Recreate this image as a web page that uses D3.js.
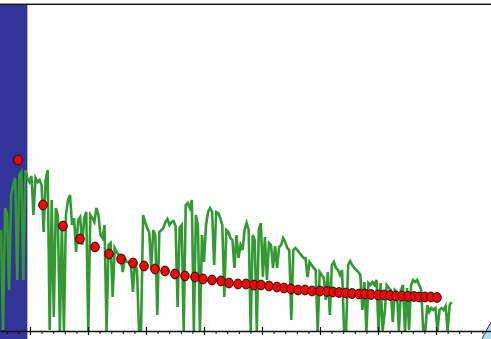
<!DOCTYPE html>
<html>
<head>
<meta charset="utf-8">
<script src="https://cdn.jsdelivr.net/npm/d3@7/dist/d3.min.js"></script>
<style>
    html, body { margin: 0; padding: 0; background: #fff; }
    svg { display: block; }
</style>
</head>
<body>
<script>
const width = 491;
const height = 339;

// spectrum sampled on a regular wavelength grid (start + step, as in a FITS header)
const waveStart = 500;
const waveStep = 35;
const flux = [
    1.01, 0.01, 1.23, 1.16, 0.41, 1.36, 1.46, 1.53, 0.51, 1.56,
    1.59, 0.51, 1.61, 1.53, 1.49, 1.55, 1.16, 1.53, 1.49, 1.51,
    1.46, 0.99, 1.51, 1.61, 0.01, 1.31, 0.14, 1.23, 1.16, 0.00,
    1.06, 0.00, 1.16, 1.31, 1.36, 1.06, 1.13, 0.79, 1.11, 1.14,
    0.86, 1.13, 1.19, 0.00, 1.16, 1.13, 1.09, 1.23, 1.16, 0.96,
    0.93, 1.06, 0.00, 0.86, 0.88, 0.34, 0.83, 0.79, 0.76, 0.73,
    0.59, 0.73, 0.69, 0.69, 0.66, 0.39, 0.69, 0.61, 0.00, 0.01,
    1.16, 1.09, 1.03, 0.99, 0.63, 1.01, 0.96, 0.16, 0.99, 1.01,
    1.03, 1.09, 1.12, 1.06, 1.09, 1.10, 1.05, 0.24, 1.03, 1.06,
    0.00, 1.26, 1.28, 1.23, 1.31, 0.00, 1.16, 1.06, 0.00, 0.96,
    0.69, 1.06, 1.19, 1.23, 1.19, 0.66, 1.19, 1.18, 1.13, 1.06,
    0.34, 1.01, 0.99, 0.93, 0.91, 0.63, 0.96, 0.73, 0.86, 0.81,
    1.01, 1.08, 1.01, 0.00, 0.96, 0.91, 0.00, 1.01, 1.08, 0.54,
    0.94, 0.51, 0.88, 0.86, 0.63, 0.85, 0.63, 0.84, 0.86, 0.93,
    0.89, 0.83, 0.81, 0.11, 0.81, 0.83, 0.81, 0.78, 0.76, 0.73,
    0.73, 0.54, 0.69, 0.66, 0.63, 0.61, 0.00, 0.59, 0.56, 0.53,
    0.31, 0.59, 0.16, 0.66, 0.69, 0.63, 0.61, 0.56, 0.61, 0.00,
    0.00, 0.66, 0.70, 0.66, 0.63, 0.61, 0.59, 0.56, 0.21, 0.49,
    0.00, 0.48, 0.46, 0.49, 0.46, 0.51, 0.00, 0.48, 0.00, 0.18,
    0.46, 0.43, 0.41, 0.09, 0.41, 0.39, 0.00, 0.41, 0.46, 0.00,
    0.43, 0.01, 0.46, 0.51, 0.49, 0.51, 0.46, 0.41, 0.00, 0.00,
    0.26, 0.19, 0.23, 0.21, 0.23, 0.00, 0.21, 0.23, 0.21, 0.25,
    0.00, 0.26, 0.29
];

// photometric points
const photWave = [
    793, 1224, 1569, 1862, 2121, 2362, 2569, 2776, 2966, 3155,
    3328, 3500, 3672, 3845, 3983, 4138, 4293, 4431, 4586, 4724,
    4862, 4983, 5121, 5258, 5379, 5500, 5621, 5741, 5862, 6000,
    6120, 6224, 6327, 6448, 6551, 6672, 6776, 6879, 7000, 7103,
    7207, 7310, 7413, 7517, 7620, 7707, 7810, 7913, 8017
];
const photFlux = [
    1.71, 1.26, 1.05, 0.92, 0.84, 0.77, 0.72, 0.68, 0.65, 0.62,
    0.60, 0.57, 0.55, 0.54, 0.52, 0.51, 0.50, 0.48, 0.47, 0.47,
    0.46, 0.46, 0.45, 0.44, 0.43, 0.42, 0.41, 0.41, 0.40, 0.40,
    0.395, 0.39, 0.385, 0.38, 0.375, 0.37, 0.37, 0.365, 0.36, 0.36,
    0.355, 0.35, 0.35, 0.345, 0.345, 0.34, 0.34, 0.34, 0.335
];

// shaded wavelength band on the left, and the corner shape at bottom right
const bandRange = [300, 955];
const cornerShape = [[8790, -0.08], [8948, 0.09], [8948, -0.08]];

const majorTicks = [1000, 2000, 3000, 4000, 5000, 6000, 7000, 8000, 9000];


function drawChart() {
    let svg = d3.select("body").append("svg")
        .attr("width", width)
        .attr("height", height);

    let x = d3.scaleLinear().domain([483, 8948]).range([0, width]);
    let y = d3.scaleLinear().domain([0, 3.27]).range([331, 4]);

    svg.append("defs").append("clipPath")
        .attr("id", "plot-clip")
        .append("rect")
        .attr("x", 0)
        .attr("y", 0)
        .attr("width", width)
        .attr("height", y(0) + 0.5);

    // band
    svg.append("rect")
        .attr("x", x(bandRange[0]))
        .attr("y", 5)
        .attr("width", x(bandRange[1]) - x(bandRange[0]))
        .attr("height", height - 5)
        .attr("fill", "#333399");

    // top frame line
    svg.append("line")
        .attr("x1", 0).attr("x2", width)
        .attr("y1", 3.5).attr("y2", 3.5)
        .attr("stroke", "#999")
        .attr("stroke-width", 1);
    svg.append("line")
        .attr("x1", 0).attr("x2", width)
        .attr("y1", 4.5).attr("y2", 4.5)
        .attr("stroke", "#111")
        .attr("stroke-width", 1);

    // corner shape
    svg.append("path")
        .datum(cornerShape)
        .attr("d", d3.line().x(d => x(d[0])).y(d => y(d[1])))
        .attr("fill", "#b5dde6");
    svg.append("path")
        .datum(cornerShape.slice(0, 2))
        .attr("d", d3.line().x(d => x(d[0])).y(d => y(d[1])))
        .attr("stroke", "#334")
        .attr("stroke-width", 1)
        .attr("fill", "none");

    // spectrum
    let spectrum = flux.map((f, i) => [waveStart + i * waveStep, f]);
    svg.append("path")
        .datum(spectrum)
        .attr("clip-path", "url(#plot-clip)")
        .attr("d", d3.line().x(d => x(d[0])).y(d => y(d[1])))
        .attr("fill", "none")
        .attr("stroke", "#339933")
        .attr("stroke-width", 2.6)
        .attr("stroke-linejoin", "miter");

    // axis: minor ticks hang below, major ticks cross the line
    let minorTicks = d3.range(600, 9000, 200).filter(t => t % 1000 !== 0);
    let minor = svg.append("g")
        .attr("transform", `translate(0,${y(0)})`)
        .call(d3.axisBottom(x).tickValues(minorTicks).tickSize(3).tickSizeOuter(0).tickFormat(""));
    minor.select(".domain").attr("stroke", "#111").attr("stroke-width", 1.6);
    minor.selectAll(".tick line").attr("stroke", "#111");

    let major = svg.append("g")
        .attr("transform", `translate(0,${y(0) - 4})`)
        .call(d3.axisBottom(x).tickValues(majorTicks).tickSize(8).tickFormat(""));
    major.select(".domain").remove();
    major.selectAll(".tick line").attr("stroke", "#111").attr("stroke-width", 1.2);

    // photometry
    svg.append("g")
        .selectAll("ellipse")
        .data(photWave.map((w, i) => [w, photFlux[i]]))
        .enter()
        .append("ellipse")
        .attr("cx", d => x(d[0]))
        .attr("cy", d => y(d[1]))
        .attr("rx", 4.3)
        .attr("ry", 4.9)
        .attr("fill", "#ff0000")
        .attr("stroke", "#111")
        .attr("stroke-width", 1);
}


drawChart();
</script>
</body>
</html>
